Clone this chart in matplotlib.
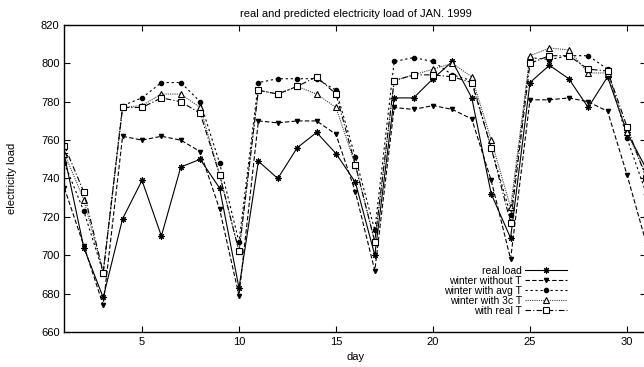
import matplotlib
matplotlib.use("Agg")
import matplotlib.pyplot as plt

plt.rcParams['font.family'] = ['Liberation Sans', 'DejaVu Sans']

days = list(range(1, 32))

# values
real_load = [752, 704, 678, 719, 739, 710, 746, 750, 735, 683, 749, 740, 756, 764, 753,
             738, 700, 782, 782, 792, 801, 782, 732, 709, 790, 799, 792, 777, 793, 764, 745]
no_temp = [735, 705, 674, 762, 760, 762, 760, 754, 724, 679, 770, 769, 770, 770, 763,
           733, 692, 777, 776, 778, 776, 771, 739, 698, 781, 781, 782, 780, 775, 742, 706]
avg_temp = [748, 723, 691, 778, 782, 790, 790, 780, 748, 707, 790, 792, 792, 792, 786,
            751, 713, 801, 803, 801, 794, 791, 756, 721, 803, 802, 804, 804, 797, 761, 732]
temp_3c = [753, 729, 691, 777, 778, 784, 784, 777, 742, 702, 786, 784, 788, 784, 777,
           747, 707, 791, 794, 797, 800, 793, 760, 725, 804, 808, 807, 795, 795, 764, 742]
real_temp = [757, 733, 691, 777, 777, 782, 780, 774, 742, 702, 786, 784, 788, 793, 784,
             747, 707, 791, 794, 794, 793, 790, 756, 717, 800, 804, 804, 797, 796, 767, 740]

labels = ["real load", "winter without T", "winter with avg T",
          "winter with 3c T", "with real T"]

fig = plt.figure(figsize=(6.44, 3.67), dpi=100)
ax = fig.add_axes([0.1, 0.0954, 0.9037, 0.8365])

lw = 0.8
ax.plot(days, real_load, color='black', linestyle='-', linewidth=lw,
        marker=(8, 2, 0), markersize=4.5, markeredgewidth=0.8, label=labels[0])
ax.plot(days, no_temp, color='black', linestyle=(0, (4, 2)), linewidth=lw,
        marker='v', markersize=3, label=labels[1])
ax.plot(days, avg_temp, color='black', linestyle=(0, (2, 2.5)), linewidth=lw,
        marker='o', markersize=3, label=labels[2])
ax.plot(days, temp_3c, color='#444444', linestyle=(0, (1, 1)), linewidth=lw,
        marker='^', markersize=4, markerfacecolor='white', markeredgecolor='black',
        markeredgewidth=0.8, label=labels[3])
ax.plot(days, real_temp, color='black', linestyle=(0, (5, 2, 1, 2)), linewidth=lw,
        marker='s', markersize=4, markerfacecolor='white', markeredgecolor='black',
        markeredgewidth=0.8, label=labels[4])

ax.set_xlim(1, 31)
ax.set_ylim(660, 820)
ax.set_xticks([5, 10, 15, 20, 25, 30])
ax.set_yticks(range(660, 821, 20))
ax.tick_params(direction='in', top=True, right=True, labelsize=8, length=4, width=0.8)
for s in ax.spines.values():
    s.set_linewidth(1.0)

ax.set_title("real and predicted electricity load of JAN. 1999", fontsize=8, pad=6)
ax.set_xlabel("day", fontsize=8, labelpad=4)
ax.set_ylabel("electricity load", fontsize=8, labelpad=17)

leg = ax.legend(loc='lower right', bbox_to_anchor=(0.8804, 0.139),
                bbox_transform=fig.transFigure, frameon=False, markerfirst=False,
                fontsize=7.5, handlelength=4.0, handletextpad=0.35, labelspacing=0.0,
                numpoints=1, borderpad=0, borderaxespad=0)

plt.savefig("out.png", dpi=100)
plt.close()
